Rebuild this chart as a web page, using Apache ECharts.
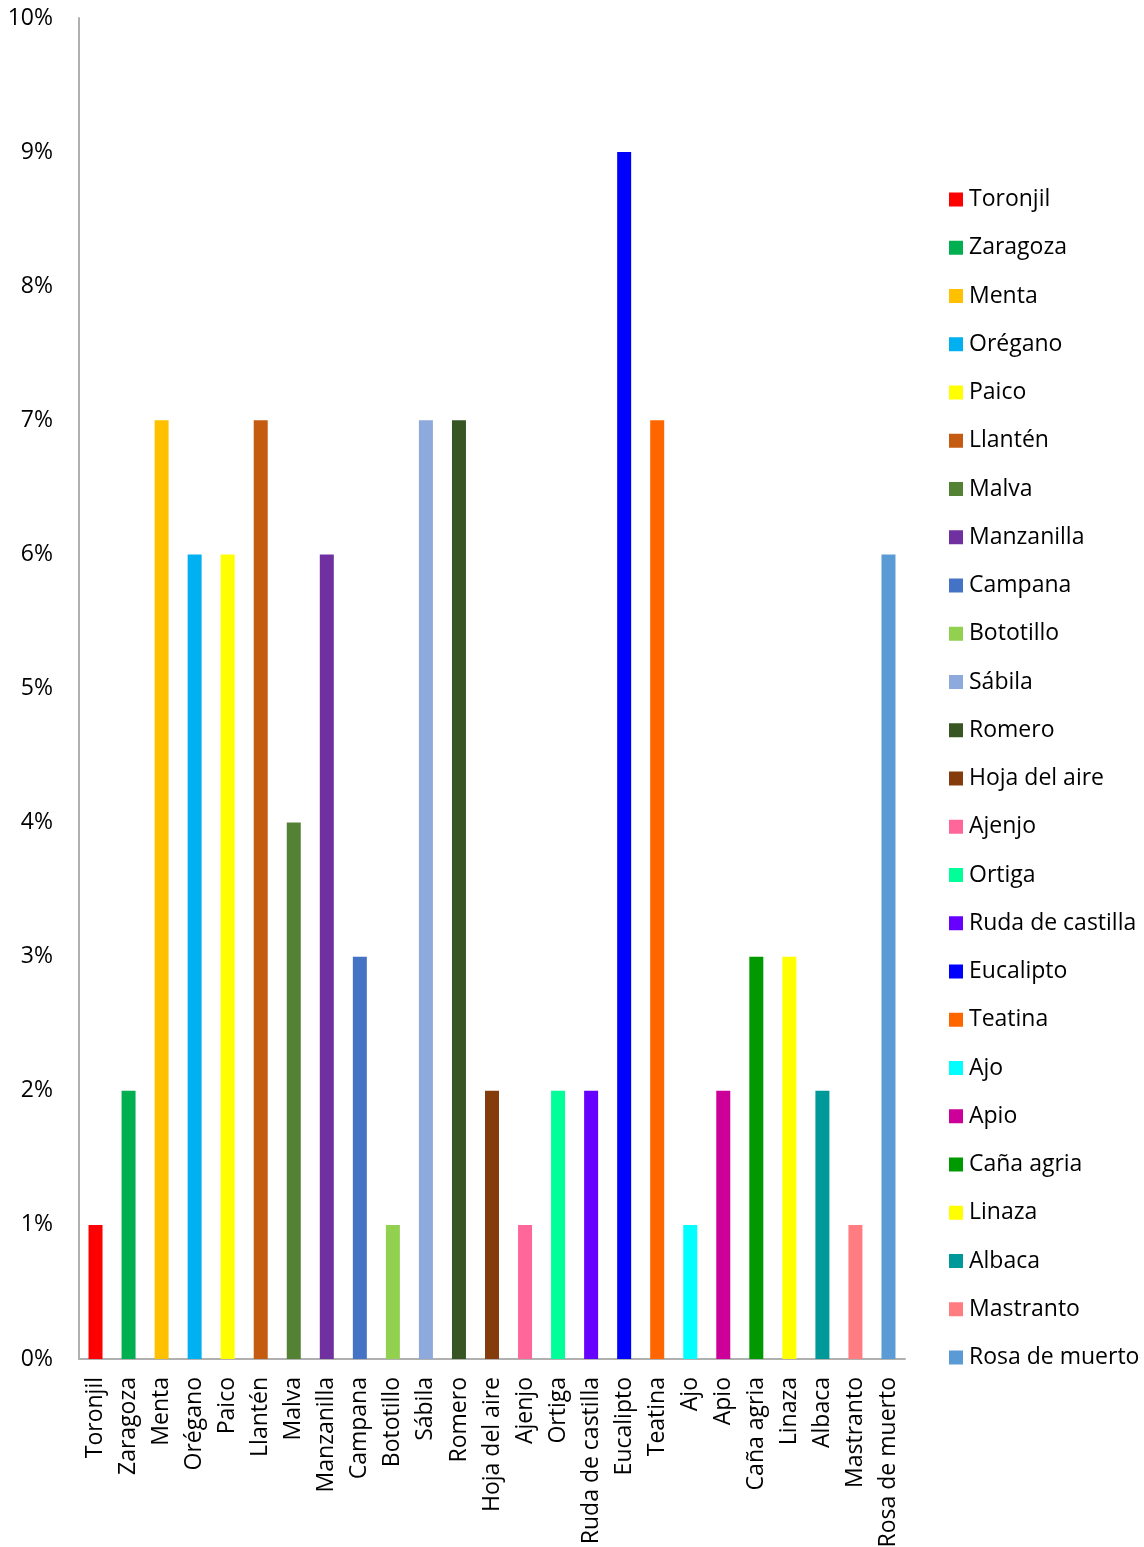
<!DOCTYPE html>
<html>
<head>
<meta charset="utf-8">
<script src="https://cdn.jsdelivr.net/npm/echarts@6/dist/echarts.min.js"></script>
<style>
  html, body { margin: 0; padding: 0; background: #fff; }
  #chart { width: 1144px; height: 1547px; }
</style>
</head>
<body>
<div id="chart"></div>
<script>
// Plant names (categories and series)
const plants = [
  'Toronjil', 'Zaragoza', 'Menta', 'Orégano', 'Paico', 'Llantén', 'Malva',
  'Manzanilla', 'Campana', 'Bototillo', 'Sábila', 'Romero', 'Hoja del aire',
  'Ajenjo', 'Ortiga', 'Ruda de castilla', 'Eucalipto', 'Teatina', 'Ajo',
  'Apio', 'Caña agria', 'Linaza', 'Albaca', 'Mastranto', 'Rosa de muerto'
];

// Share of mentions per plant, in percent
const shares = [1, 2, 7, 6, 6, 7, 4, 6, 3, 1, 7, 7, 2, 1, 2, 2, 9, 7, 1, 2, 3, 3, 2, 1, 6];

// One colour per plant
const colors = [
  '#FF0000', '#00B050', '#FFC000', '#00B0F0', '#FFFF00', '#C55A11', '#548235',
  '#7030A0', '#4472C4', '#92D050', '#8EA9DB', '#375623', '#843C0C',
  '#FF6699', '#00FF99', '#6600FF', '#0000FF', '#FF6600', '#00FFFF',
  '#CC0099', '#009900', '#FFFF00', '#009999', '#FF7C80', '#5B9BD5'
];

const FONT = '"Open Sans", "Noto Sans", sans-serif';
const FONT_SIZE = 23;

// Each plant is its own series, holding a value only at its own category
const series = plants.map((name, i) => ({
  name: name,
  type: 'bar',
  stack: 'plants',
  barWidth: 14,
  itemStyle: { color: colors[i] },
  data: plants.map((_, j) => (j === i ? shares[i] : '-'))
}));

const chart = echarts.init(document.getElementById('chart'), null, { renderer: 'canvas' });
chart.setOption({
  animation: false,
  backgroundColor: '#ffffff',
  grid: {
    left: 79, right: 239, top: 18, bottom: 188,
    containLabel: false, outerBoundsMode: 'none'
  },
  legend: {
    orient: 'vertical',
    left: 949,
    top: 188,
    padding: 0,
    itemWidth: 14,
    itemHeight: 14,
    itemGap: 25.25,
    icon: 'rect',
    textStyle: {
      fontFamily: FONT, fontSize: FONT_SIZE,
      color: '#000', padding: [0, 0, 0, 1]
    },
    data: plants
  },
  xAxis: {
    type: 'category',
    data: plants,
    axisLine: { lineStyle: { color: '#b0b0b0', width: 2 } },
    axisTick: { show: false },
    axisLabel: {
      rotate: 90,
      interval: 0,
      margin: 18,
      fontFamily: FONT,
      fontSize: FONT_SIZE,
      color: '#000'
    }
  },
  yAxis: {
    type: 'value',
    min: 0,
    max: 10,
    interval: 1,
    axisLine: { show: true, lineStyle: { color: '#b0b0b0', width: 2 } },
    axisTick: { show: false },
    splitLine: { show: false },
    axisLabel: {
      margin: 26,
      fontFamily: FONT,
      fontSize: FONT_SIZE,
      color: '#000',
      formatter: v => v + '%'
    }
  },
  series: series
});
</script>
</body>
</html>
